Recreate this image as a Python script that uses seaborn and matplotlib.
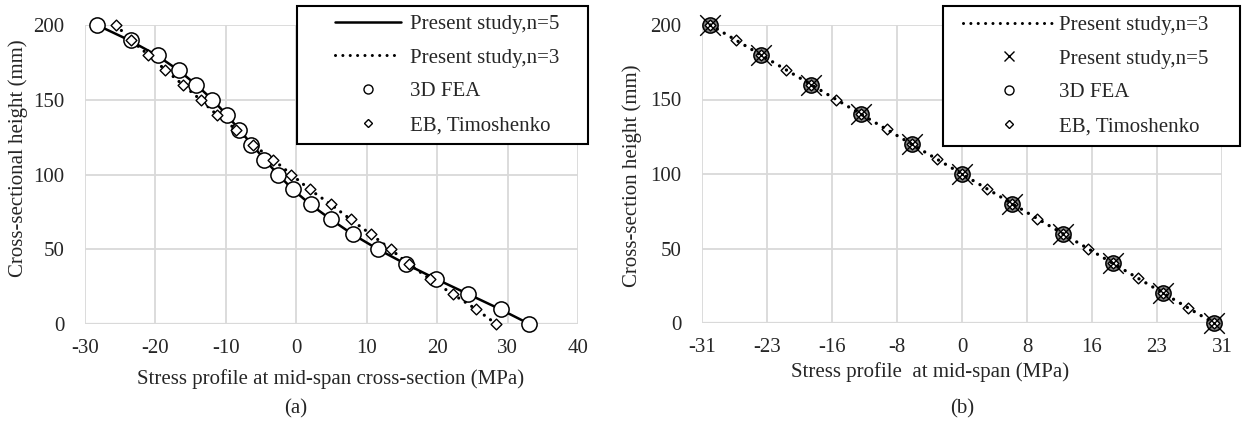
import numpy as np
import pandas as pd
import matplotlib
matplotlib.use("Agg")
import matplotlib.pyplot as plt
from matplotlib.lines import Line2D
from matplotlib.legend_handler import HandlerLine2D
import seaborn as sns

# ---------------- data (a) ----------------
height_a = [200, 190, 180, 170, 160, 150, 140, 130, 120, 110, 100,
            90, 80, 70, 60, 50, 40, 30, 20, 10, 0]
fea_a = [-28.3, -23.5, -19.7, -16.7, -14.2, -11.9, -9.9, -8.2, -6.4, -4.6, -2.6,
         -0.5, 2.1, 4.9, 8.0, 11.6, 15.6, 19.8, 24.4, 29.1, 33.1]
n5_a = [-28.3, -23.8, -19.9, -16.8, -14.2, -11.9, -9.9, -8.1, -6.3, -4.5, -2.6,
        -0.5, 2.0, 4.9, 8.0, 11.6, 15.6, 19.9, 24.4, 28.9, 33.1]
eb_a = [-25.6, -23.5, -21.0, -18.6, -16.1, -13.6, -11.3, -8.5, -6.2, -3.3, -0.7,
        1.9, 4.9, 7.7, 10.6, 13.4, 16.0, 19.0, 22.2, 25.5, 28.4]
n3_a = eb_a

# ---------------- data (b) ----------------
height_b = [200, 190, 180, 170, 160, 150, 140, 130, 120, 110, 100,
            90, 80, 70, 60, 50, 40, 30, 20, 10, 0]
n3_b = [-30.0, -27.0, -24.0, -21.0, -18.0, -15.0, -12.0, -9.0, -6.0, -3.0, 0.0,
        3.0, 6.0, 9.0, 12.0, 15.0, 18.0, 21.0, 24.0, 27.0, 30.0]
eb_b = n3_b
height_b20 = [200, 180, 160, 140, 120, 100, 80, 60, 40, 20, 0]
n5_b = [-30.0, -24.0, -18.0, -12.0, -6.0, 0.0, 6.0, 12.0, 18.0, 24.0, 30.0]
fea_b = [-30.0, -24.0, -18.0, -12.0, -6.0, 0.0, 6.0, 12.0, 18.0, 24.0, 30.0]

xticks_b = [-31, -23.25, -15.5, -7.75, 0, 7.75, 15.5, 23.25, 31]
xticklabels_b = ["-31", "-23", "-16", "-8", "0", "8", "16", "23", "31"]

sns.set_style("white")
plt.rcParams['font.family'] = ['Liberation Serif', 'DejaVu Serif']
plt.rcParams['axes.unicode_minus'] = False

W, H = 1244, 438
fig = plt.figure(figsize=(W / 100, H / 100), dpi=100)

def px_axes(x0, x1, ytop, ybot):
    return fig.add_axes([x0 / W, 1 - ybot / H, (x1 - x0) / W, (ybot - ytop) / H])

ax1 = px_axes(85, 578, 25, 324)
ax2 = px_axes(702, 1222, 25, 323)

GRID = '#d9d9d9'
FS = 15
dotted = (0, (0.01, 2.4))

def style_axes(ax):
    for s in ax.spines.values():
        s.set_visible(False)
    ax.grid(True, color=GRID, linewidth=1.3)
    ax.set_axisbelow(True)
    ax.tick_params(axis='y', length=0, labelsize=FS, pad=15)
    ax.tick_params(axis='x', length=0, labelsize=FS, pad=11)
    ax.axhline(0, color=GRID, linewidth=1.6, zorder=0.5)

def px_box(x0, x1, ytop, ybot):
    return (x0 / W, 1 - ybot / H, (x1 - x0) / W, (ybot - ytop) / H)

# ---------------- panel (a) ----------------
da = pd.DataFrame({"h": height_a, "fea": fea_a, "n5": n5_a, "eb": eb_a, "n3": n3_a})
sns.lineplot(data=da, x="n5", y="h", sort=False, ax=ax1, color='black', linewidth=1.8,
             estimator=None, clip_on=False, zorder=3)
sns.lineplot(data=da, x="n3", y="h", sort=False, ax=ax1, color='black', linewidth=2.3,
             linestyle=dotted, dash_capstyle='round', estimator=None, clip_on=False, zorder=3)
sns.scatterplot(data=da, x="fea", y="h", ax=ax1, marker='o', s=120, facecolor='white',
                edgecolor='black', linewidth=1.1, clip_on=False, zorder=4)
sns.scatterplot(data=da, x="eb", y="h", ax=ax1, marker='D', s=30, facecolor='white',
                edgecolor='black', linewidth=1.0, clip_on=False, zorder=5)
ax1.set_xlim(-30, 40)
ax1.set_ylim(0, 200)
ax1.set_xticks(range(-30, 41, 10))
ax1.set_yticks(range(0, 201, 50))
style_axes(ax1)
ax1.set_xlabel("Stress profile at mid-span cross-section (MPa)", fontsize=FS)
ax1.set_ylabel("Cross-sectional height (mm)", fontsize=FS)
ax1.xaxis.set_label_coords((331 - 85) / 493, (324 - 379) / 299)
ax1.xaxis.label.set_va('center')
ax1.yaxis.set_label_coords((18 - 85) / 493, (324 - 158) / 299)
ax1.yaxis.label.set_va('center')

h1 = [Line2D([], [], color='black', linewidth=1.8),
      Line2D([], [], color='black', linewidth=2.2, linestyle=dotted, dash_capstyle='round'),
      Line2D([], [], color='black', linestyle='none', marker='o', markersize=6.5,
             markerfacecolor='white', markeredgewidth=1.0),
      Line2D([], [], color='black', linestyle='none', marker='D', markersize=4.5,
             markerfacecolor='white', markeredgewidth=1.0)]
l1 = ["Present study,n=5", "Present study,n=3", "3D FEA", "EB, Timoshenko"]
hm1 = {h: HandlerLine2D(xpad=1.4) for h in h1}
leg1 = ax1.legend(h1, l1, loc='upper left', bbox_to_anchor=px_box(297, 588, 6, 140),
                  mode='expand', bbox_transform=fig.transFigure, fontsize=FS, frameon=True,
                  fancybox=False, edgecolor='black', framealpha=1, handlelength=4.6,
                  handletextpad=0.4, borderpad=0.4, labelspacing=0.68, borderaxespad=0,
                  handler_map=hm1)
leg1.get_frame().set_linewidth(1.5)

# ---------------- panel (b) ----------------
db = pd.DataFrame({"h": height_b, "n3": n3_b, "eb": eb_b})
db20 = pd.DataFrame({"h": height_b20, "n5": n5_b, "fea": fea_b})
sns.scatterplot(data=db20, x="fea", y="h", ax=ax2, marker='o', s=120, facecolor='#7f7f7f',
                edgecolor='black', linewidth=1.1, clip_on=False, zorder=3)
sns.lineplot(data=db, x="n3", y="h", sort=False, ax=ax2, color='black', linewidth=2.4,
             linestyle=dotted, dash_capstyle='round', estimator=None, clip_on=False, zorder=4)
sns.scatterplot(data=db, x="eb", y="h", ax=ax2, marker='D', s=30, facecolor='white',
                edgecolor='black', linewidth=1.0, clip_on=False, zorder=3.5)
sns.scatterplot(data=db20, x="n5", y="h", ax=ax2, marker='x', s=220, color='black',
                linewidth=1.0, clip_on=False, zorder=5)
ax2.set_xlim(-31, 31)
ax2.set_ylim(0, 200)
ax2.set_xticks(xticks_b)
ax2.set_xticklabels(xticklabels_b)
ax2.set_yticks(range(0, 201, 50))
style_axes(ax2)
ax2.set_xlabel("Stress profile  at mid-span (MPa)", fontsize=FS)
ax2.set_ylabel("Cross-section height (mm)", fontsize=FS)
ax2.xaxis.set_label_coords((930 - 702) / 520, (323 - 372) / 298)
ax2.xaxis.label.set_va('center')
ax2.yaxis.set_label_coords((632 - 702) / 520, (323 - 176) / 298)
ax2.yaxis.label.set_va('center')

h2 = [Line2D([], [], color='black', linewidth=2.2, linestyle=dotted, dash_capstyle='round'),
      Line2D([], [], color='black', linestyle='none', marker='x', markersize=6.5,
             markeredgewidth=1.0),
      Line2D([], [], color='black', linestyle='none', marker='o', markersize=6.5,
             markerfacecolor='white', markeredgewidth=1.0),
      Line2D([], [], color='black', linestyle='none', marker='D', markersize=4.5,
             markerfacecolor='white', markeredgewidth=1.0)]
l2 = ["Present study,n=3", "Present study,n=5", "3D FEA", "EB, Timoshenko"]
hm2 = {h: HandlerLine2D(xpad=0.5) for h in h2}
leg2 = ax2.legend(h2, l2, loc='upper left', bbox_to_anchor=px_box(943, 1240, 6, 143),
                  mode='expand', bbox_transform=fig.transFigure, fontsize=FS, frameon=True,
                  fancybox=False, edgecolor='black', framealpha=1, handlelength=4.9,
                  handletextpad=0.2, borderpad=0.45, labelspacing=0.68, borderaxespad=0,
                  handler_map=hm2)
leg2.get_frame().set_linewidth(1.5)

fig.text(296 / W, 1 - 409 / H, "(a)", ha='center', va='center', fontsize=FS)
fig.text(962 / W, 1 - 409 / H, "(b)", ha='center', va='center', fontsize=FS)

fig.savefig("out.png", dpi=100, facecolor='white')
